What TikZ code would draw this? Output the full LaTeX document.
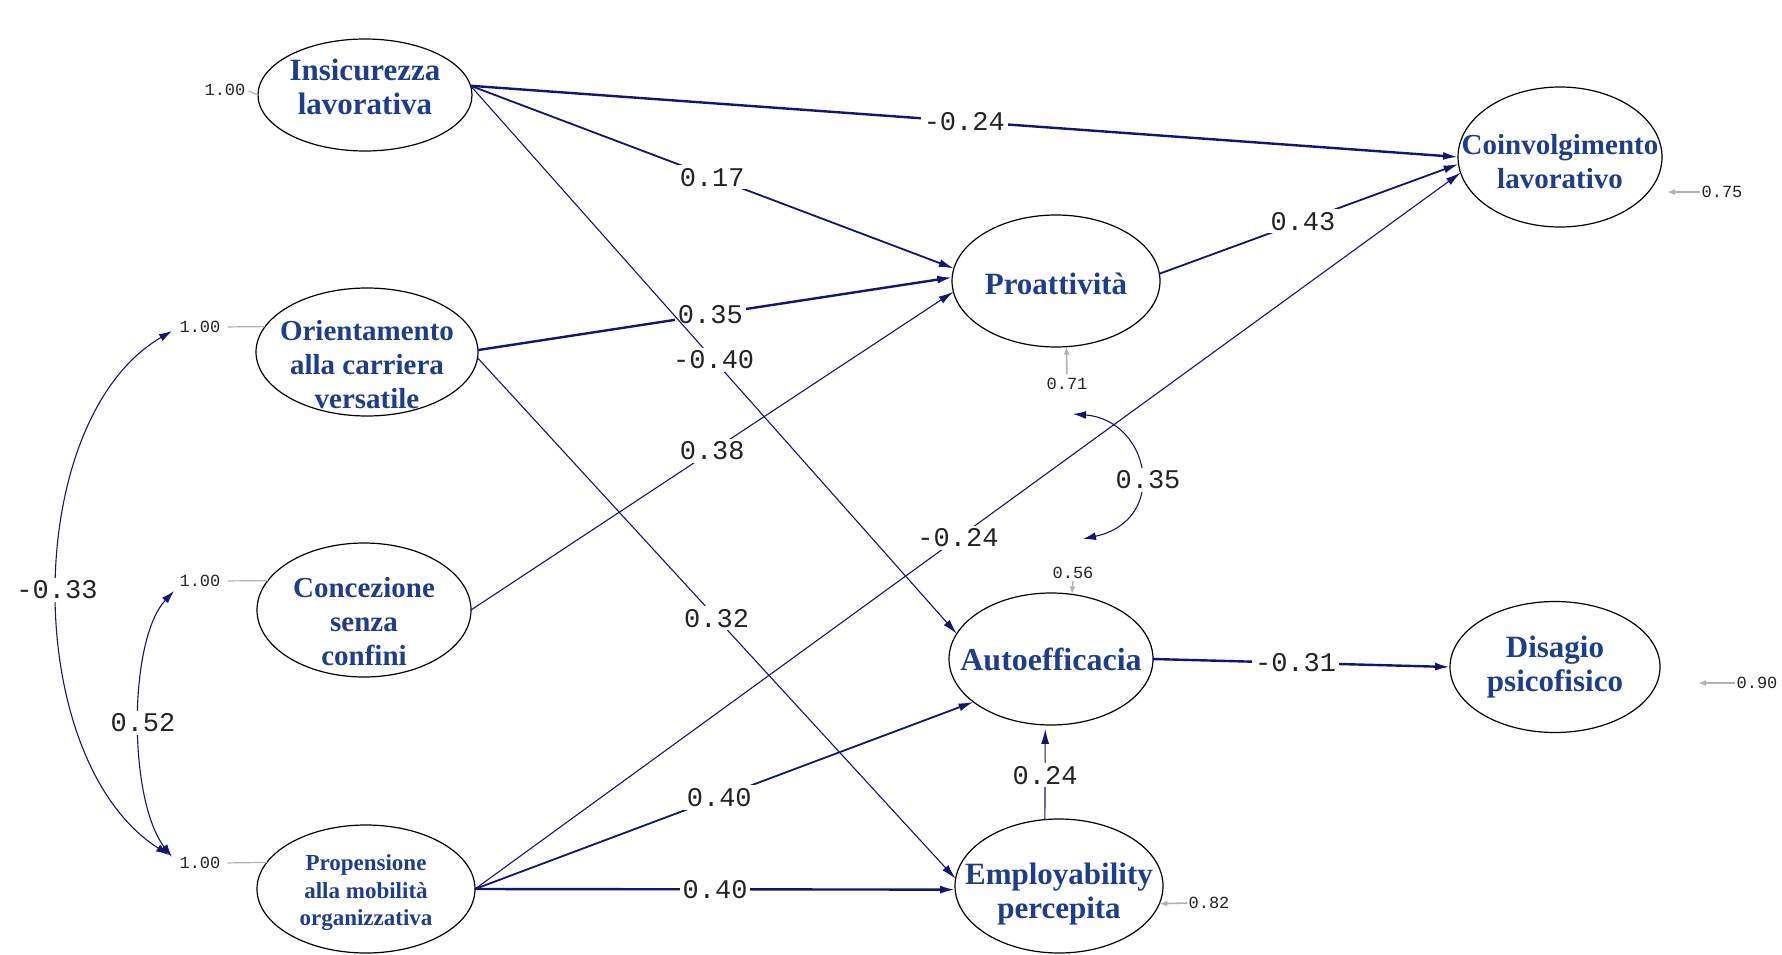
\documentclass[tikz,border=0pt]{standalone}
\usepackage{fontspec}
\setmainfont{Liberation Serif}
\newfontfamily\numfont{Liberation Mono}
\usetikzlibrary{arrows.meta,shapes.geometric}
\definecolor{navy}{RGB}{20,20,115}
\definecolor{txtblue}{RGB}{30,62,140}
\definecolor{resgray}{RGB}{178,178,178}
\definecolor{numcol}{RGB}{35,35,35}
\newcommand{\fsz}[1]{\fontsize{#1}{34}\selectfont\bfseries}
\begin{document}
\begin{tikzpicture}[x=1pt,y=-1pt,
 lv/.style={ellipse,draw=black,line width=1.2pt,inner sep=0pt,outer sep=0pt},
 lvtext/.style={text=txtblue,align=center,inner sep=0pt},
 coef/.style={fill=white,text=numcol,font=\numfont\fontsize{27}{27}\selectfont,inner sep=3pt},
 smalln/.style={text=numcol,font=\numfont\fontsize{17}{17}\selectfont,inner sep=1pt},
 arrw/.style={draw=navy,-{Latex[length=15pt,width=8pt]}},
 wthick/.style={line width=2.4pt},
 wmed/.style={line width=1.8pt},
 wthin/.style={line width=1.1pt},
 cov/.style={draw=navy,line width=1.1pt,{Latex[length=13pt,width=8pt]}-{Latex[length=13pt,width=8pt]}},
 res/.style={draw=resgray,line width=1.6pt,-{Latex[length=8pt,width=6pt]}},
 fixline/.style={draw=resgray,line width=1.2pt},
]
\fill[white] (0,0) rectangle (1782,955);
\useasboundingbox (0,0) rectangle (1782,955);

% latent variables (ellipses)
\node[lv,minimum width=214pt,minimum height=112pt] (ins) at (365,95) {};
\node[lv,minimum width=222pt,minimum height=128pt] (ori) at (367,352) {};
\node[lv,minimum width=214pt,minimum height=134pt] (con) at (364,610) {};
\node[lv,minimum width=218pt,minimum height=128pt] (pro) at (366,889) {};
\node[lv,minimum width=208pt,minimum height=132pt] (pra) at (1056,281) {};
\node[lv,minimum width=204pt,minimum height=140pt] (coi) at (1560,157) {};
\node[lv,minimum width=204pt,minimum height=132pt] (aut) at (1051,659) {};
\node[lv,minimum width=210pt,minimum height=131pt] (dis) at (1555,667) {};
\node[lv,minimum width=208pt,minimum height=134pt] (emp) at (1059,886) {};

% texts
\node[lvtext,font=\fsz{31}] (inst) at (365,87) {Insicurezza\\lavorativa};
\node[lvtext,font=\fsz{29}] (orit) at (367,365) {Orientamento\\alla carriera\\versatile};
\node[lvtext,font=\fsz{29}] (cont) at (364,622) {Concezione\\senza\\confini};
\node[lvtext,font=\fontsize{23}{27.5}\selectfont\bfseries] (prot) at (366,893) {Propensione\\alla mobilità\\organizzativa};
\node[lvtext,font=\fsz{31}] (prat) at (1056,284) {Proattività};
\node[lvtext,font=\fsz{29}] (coit) at (1560,162) {Coinvolgimento\\lavorativo};
\node[lvtext,font=\fsz{32}] (autt) at (1051,659) {Autoefficacia};
\node[lvtext,font=\fsz{31}] (dist) at (1555,667) {Disagio\\psicofisico};
\node[lvtext,font=\fsz{31}] (empt) at (1059,894) {Employability\\percepita};

% variances of exogenous variables
\node[smalln] (v-ins) at (225,90) {1.00};
\node[smalln] (v-ori) at (200,327) {1.00};
\node[smalln] (v-con) at (200,581) {1.00};
\node[smalln] (v-pro) at (200,863) {1.00};
\draw[fixline,shorten <=2pt] (v-ins.east) -- (ins.west);
\draw[fixline,shorten <=6pt] (v-ori.east) -- (ori.166);
\draw[fixline,shorten <=6pt] (v-con.east) -- (con.163);
\draw[fixline,shorten <=6pt] (v-pro.east) -- (pro.165);

% covariances
\coordinate (c-ori) at (172,331);
\coordinate (c-con) at (174,591);
\coordinate (c-pro1) at (169,855);
\coordinate (c-pro2) at (172,857);
\draw[cov] (c-ori) .. controls (20,420) and (20,760) .. (c-pro1);
\node[coef] (k-033) at (57,590) {-0.33};
\draw[cov] (c-con) .. controls (128,640) and (128,800) .. (c-pro2);
\node[coef] (k-052) at (143,723) {0.52};

% structural paths
\draw[arrw,wthick] (ins.5) -- node[coef,pos=0.5] (k1) {-0.24} (coi.180);
\draw[arrw,wmed] (ins.5) -- node[coef,pos=0.5] (k2) {0.17} (pra.173);
\draw[arrw,wthick] (ori.1) -- node[coef,pos=0.49] (k4) {0.35} (pra.178);
\draw[arrw,wthin] (ins.5) -- node[coef,pos=0.5] (k3) {-0.40} (aut.165);
\draw[arrw,wthin] (ori.357) -- node[coef,pos=0.5] (k5) {0.32} (emp.176);
\draw[arrw,wthin] (con.east) -- node[coef,pos=0.5] (k6) {0.38} (pra.186);
\draw[arrw,wmed] (pra.4) -- node[coef,pos=0.48] (k7) {0.43} (coi.184);
\draw[arrw,wthin] (pro.east) -- node[coef,pos=0.49] (k8) {-0.24} (coi.189);
\draw[arrw,wmed] (pro.east) -- node[coef,pos=0.49] (k9) {0.40} (aut.209);
\draw[arrw,wthick] (pro.east) -- node[coef,pos=0.5] (k10) {0.40} (emp.182);
\draw[arrw,wthick] (aut.east) -- node[coef,pos=0.48] (k11) {-0.31} (dis.west);
\draw[arrw,wthin,shorten >=4pt] (emp.102) -- node[coef,pos=0.47] (k12) {0.24} (aut.265);

% residual covariance
\coordinate (c-pra) at (1073,414);
\coordinate (c-aut) at (1083,539);
\draw[cov] (c-pra) .. controls (1150,420) and (1170,520) .. (c-aut);
\node[coef] (k-035) at (1148,480) {0.35};

% residuals
\node[smalln] (r-pra) at (1067,384) {0.71};
\draw[res,shorten <=3pt] (r-pra.north) -- (pra.279);
\node[smalln] (r-aut) at (1073,573) {0.56};
\draw[res,shorten <=1pt] (r-aut.south) -- (aut.72);
\node[smalln] (r-coi) at (1722,192) {0.75};
\coordinate (rc-coi) at (1667,192);
\draw[res] (r-coi.west) -- (rc-coi);
\node[smalln] (r-dis) at (1757,683) {0.90};
\coordinate (rc-dis) at (1698,683);
\draw[res] (r-dis.west) -- (rc-dis);
\node[smalln] (r-emp) at (1209,903) {0.82};
\draw[res] (r-emp.west) -- (emp.350);
\end{tikzpicture}
\end{document}
